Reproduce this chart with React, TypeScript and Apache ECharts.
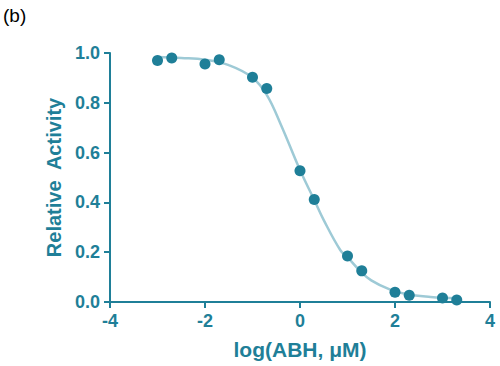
import React, { useEffect, useRef } from "react";
import * as echarts from "echarts";

const logDose = [-3, -2.7, -2, -1.7, -1, -0.7, 0, 0.3, 1, 1.3, 2, 2.3, 3, 3.3];
const activity = [0.970, 0.980, 0.956, 0.973, 0.903, 0.857, 0.527, 0.412, 0.185, 0.125, 0.039, 0.027, 0.016, 0.008];

const fitX = [-3, -2.5, -2, -1.5, -1, -0.7, -0.4, 0, 0.3, 0.5, 0.85, 1, 1.25, 1.5, 1.9, 2.3, 2.75, 3.3];
const fitY = [0.984, 0.980, 0.973, 0.951, 0.901, 0.832, 0.711, 0.530, 0.410, 0.329, 0.208, 0.180, 0.128, 0.087, 0.050, 0.030, 0.020, 0.015];

const xTicks = [-4, -2, 0, 2, 4];
const yTicks = [0, 0.2, 0.4, 0.6, 0.8, 1.0];

const TEAL = "#1f7f98";
const LIGHT = "#9ecad6";
const FONT = "'Liberation Sans', Arial, Helvetica, sans-serif";

export default function App() {
  const ref = useRef<HTMLDivElement>(null);
  useEffect(() => {
    if (!ref.current) return;
    const chart = echarts.init(ref.current, undefined, { renderer: "svg" });
    chart.setOption({
      animation: false,
      backgroundColor: "#ffffff",
      grid: { left: 110, right: 10, top: 53, bottom: 64 },
      graphic: [
        {
          type: "text",
          left: 3,
          top: 6,
          style: { text: "(b)", font: `19px ${FONT}`, fill: "#000" },
        },
      ],
      xAxis: {
        type: "value",
        min: xTicks[0],
        max: xTicks[xTicks.length - 1],
        interval: 2,
        name: "log(ABH, \u03bcM)",
        nameLocation: "middle",
        nameGap: 37,
        nameTextStyle: { color: TEAL, fontFamily: FONT, fontWeight: "bold", fontSize: 21 },
        axisLine: { show: true, onZero: false, lineStyle: { color: TEAL, width: 2 } },
        axisTick: { show: true, inside: false, length: 6, lineStyle: { color: TEAL, width: 2 } },
        axisLabel: { color: TEAL, fontFamily: FONT, fontWeight: "bold", fontSize: 18, margin: 10 },
        splitLine: { show: false },
      },
      yAxis: {
        type: "value",
        min: yTicks[0],
        max: yTicks[yTicks.length - 1],
        interval: 0.2,
        name: "Relative  Activity",
        nameLocation: "middle",
        nameGap: 40,
        nameTextStyle: { color: TEAL, fontFamily: FONT, fontWeight: "bold", fontSize: 20 },
        axisLine: { show: true, onZero: false, lineStyle: { color: TEAL, width: 2 } },
        axisTick: { show: true, inside: false, length: 6, lineStyle: { color: TEAL, width: 2 } },
        axisLabel: {
          color: TEAL,
          fontFamily: FONT,
          fontWeight: "bold",
          fontSize: 18,
          margin: 10,
          formatter: (v: number) => v.toFixed(1),
        },
        splitLine: { show: false },
      },
      series: [
        {
          type: "line",
          data: fitX.map((x, i) => [x, fitY[i]]),
          smooth: 0.4,
          showSymbol: false,
          lineStyle: { color: LIGHT, width: 2.5 },
          z: 1,
        },
        {
          type: "scatter",
          data: logDose.map((x, i) => [x, activity[i]]),
          symbolSize: 11,
          itemStyle: { color: TEAL, opacity: 1 },
          z: 2,
        },
      ],
    });
    return () => chart.dispose();
  }, []);
  return <div ref={ref} style={{ width: 500, height: 366, position: "absolute", left: 0, top: 0 }} />;
}
